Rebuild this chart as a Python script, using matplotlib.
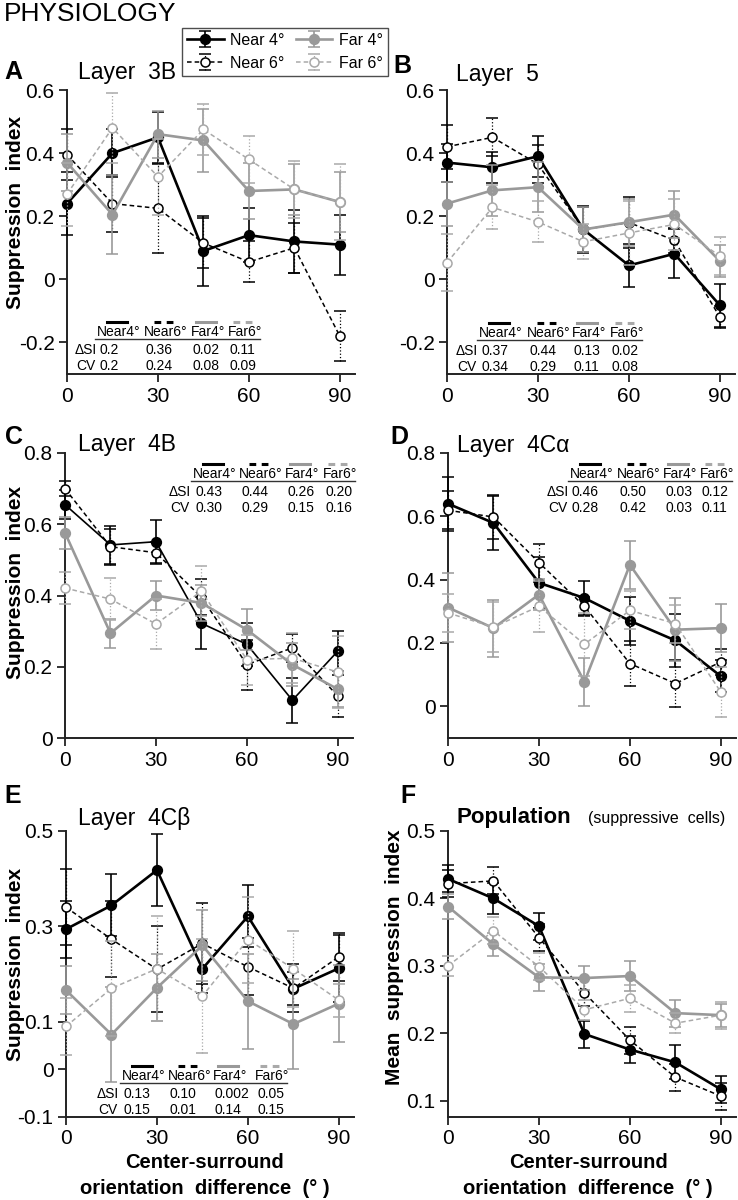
import matplotlib
matplotlib.use("Agg")
import matplotlib.pyplot as plt
from matplotlib.lines import Line2D

plt.rcParams['font.family'] = ['Liberation Sans', 'DejaVu Sans']

# ---------------- data ----------------
angles = [0, 15, 30, 45, 60, 75, 90]

A_near4 = [0.24, 0.40, 0.45, 0.09, 0.14, 0.12, 0.11]
A_near4_err = [0.10, 0.075, 0.08, 0.11, 0.085, 0.10, 0.095]
A_near6 = [0.395, 0.24, 0.225, 0.115, 0.055, 0.10, -0.18]
A_near6_err = [0.08, 0.09, 0.14, 0.08, 0.065, 0.08, 0.08]
A_far4 = [0.37, 0.205, 0.46, 0.44, 0.28, 0.285, 0.245]
A_far4_err = [0.09, 0.125, 0.075, 0.10, 0.09, 0.08, 0.095]
A_far6 = [0.27, 0.48, 0.325, 0.475, 0.38, 0.285, 0.245]
A_far6_err = [0.10, 0.11, 0.12, 0.08, 0.075, 0.09, 0.12]

B_near4 = [0.37, 0.355, 0.39, 0.158, 0.044, 0.081, -0.082]
B_near4_err = [0.06, 0.05, 0.065, 0.075, 0.067, 0.077, 0.068]
B_near6 = [0.42, 0.45, 0.365, 0.158, 0.18, 0.124, -0.12]
B_near6_err = [0.07, 0.06, 0.06, 0.07, 0.08, 0.04, 0.035]
B_far4 = [0.24, 0.282, 0.292, 0.158, 0.181, 0.205, 0.058]
B_far4_err = [0.07, 0.08, 0.08, 0.07, 0.075, 0.075, 0.05]
B_far6 = [0.053, 0.228, 0.182, 0.119, 0.147, 0.174, 0.074]
B_far6_err = [0.09, 0.07, 0.065, 0.055, 0.10, 0.08, 0.06]

C_near4 = [0.655, 0.542, 0.551, 0.322, 0.263, 0.106, 0.244]
C_near4_err = [0.04, 0.054, 0.062, 0.073, 0.06, 0.063, 0.055]
C_near6 = [0.70, 0.537, 0.52, 0.395, 0.206, 0.253, 0.118]
C_near6_err = [0.02, 0.05, 0.03, 0.05, 0.07, 0.04, 0.06]
C_far4 = [0.576, 0.294, 0.40, 0.379, 0.304, 0.206, 0.137]
C_far4_err = [0.045, 0.04, 0.04, 0.05, 0.057, 0.06, 0.05]
C_far6 = [0.421, 0.39, 0.32, 0.412, 0.22, 0.224, 0.185]
C_far6_err = [0.045, 0.06, 0.07, 0.07, 0.07, 0.07, 0.10]

D_near4 = [0.64, 0.579, 0.39, 0.342, 0.27, 0.208, 0.095]
D_near4_err = [0.085, 0.085, 0.08, 0.055, 0.075, 0.085, 0.05]
D_near6 = [0.619, 0.598, 0.454, 0.316, 0.135, 0.072, 0.14]
D_near6_err = [0.06, 0.07, 0.06, 0.03, 0.07, 0.075, 0.04]
D_far4 = [0.312, 0.247, 0.353, 0.077, 0.447, 0.242, 0.247]
D_far4_err = [0.11, 0.09, 0.05, 0.077, 0.075, 0.10, 0.075]
D_far6 = [0.295, 0.25, 0.316, 0.196, 0.303, 0.261, 0.045]
D_far6_err = [0.06, 0.08, 0.08, 0.10, 0.06, 0.06, 0.08]

E_near4 = [0.294, 0.344, 0.418, 0.211, 0.321, 0.169, 0.212]
E_near4_err = [0.06, 0.065, 0.075, 0.05, 0.065, 0.035, 0.07]
E_near6 = [0.34, 0.273, 0.21, 0.264, 0.215, 0.17, 0.236]
E_near6_err = [0.08, 0.08, 0.09, 0.085, 0.06, 0.05, 0.05]
E_far4 = [0.166, 0.073, 0.171, 0.26, 0.143, 0.095, 0.138]
E_far4_err = [0.05, 0.10, 0.07, 0.075, 0.10, 0.095, 0.08]
E_far6 = [0.09, 0.17, 0.211, 0.154, 0.272, 0.211, 0.145]
E_far6_err = [0.06, 0.10, 0.11, 0.12, 0.09, 0.08, 0.035]

F_near4 = [0.429, 0.40, 0.359, 0.199, 0.176, 0.157, 0.117]
F_near4_err = [0.02, 0.023, 0.02, 0.02, 0.02, 0.025, 0.02]
F_near6 = [0.422, 0.426, 0.342, 0.26, 0.19, 0.135, 0.107]
F_near6_err = [0.02, 0.02, 0.02, 0.02, 0.02, 0.02, 0.02]
F_far4 = [0.388, 0.332, 0.283, 0.282, 0.285, 0.23, 0.227]
F_far4_err = [0.018, 0.017, 0.02, 0.018, 0.022, 0.02, 0.017]
F_far6 = [0.30, 0.352, 0.299, 0.235, 0.252, 0.215, 0.227]
F_far6_err = [0.015, 0.02, 0.02, 0.015, 0.02, 0.015, 0.02]

series_names = ["Near4°", "Near6°", "Far4°", "Far6°"]
legend_labels = ["Near 4°", "Near 6°", "Far 4°", "Far 6°"]

A_dsi = ["0.2", "0.36", "0.02", "0.11"]
A_cv = ["0.2", "0.24", "0.08", "0.09"]
B_dsi = ["0.37", "0.44", "0.13", "0.02"]
B_cv = ["0.34", "0.29", "0.11", "0.08"]
C_dsi = ["0.43", "0.44", "0.26", "0.20"]
C_cv = ["0.30", "0.29", "0.15", "0.16"]
D_dsi = ["0.46", "0.50", "0.03", "0.12"]
D_cv = ["0.28", "0.42", "0.03", "0.11"]
E_dsi = ["0.13", "0.10", "0.002", "0.05"]
E_cv = ["0.15", "0.01", "0.14", "0.15"]

xticks = [0, 30, 60, 90]
A_yticks = [-0.2, 0, 0.2, 0.4, 0.6]
C_yticks = [0, 0.2, 0.4, 0.6, 0.8]
E_yticks = [-0.1, 0, 0.1, 0.3, 0.5]
F_yticks = [0.1, 0.2, 0.3, 0.4, 0.5]

# ---------------- figure ----------------
W, H = 738, 1200
fig = plt.figure(figsize=(W / 100, H / 100), dpi=100)


def P(x, y):
    return (x / W, 1 - y / H)


BLACK = "#000000"
GRAY = "#999999"
LGRAY = "#a9a9a9"

styles = [
    dict(color=BLACK, ls="-", lw=1.9, marker="o", mfc=BLACK, mec=BLACK, ms=7, elw=1.2, els="-"),
    dict(color=BLACK, ls=(0, (3, 2)), lw=1.1, marker="o", mfc="white", mec=BLACK, ms=6.5, elw=0.9, els=":"),
    dict(color=GRAY, ls="-", lw=1.9, marker="o", mfc=GRAY, mec=GRAY, ms=7, elw=1.2, els="-"),
    dict(color=LGRAY, ls=(0, (3, 2)), lw=1.1, marker="o", mfc="white", mec=LGRAY, ms=6.5, elw=0.9, els=":"),
]


def fmt(v):
    if v == 0:
        return "0"
    return "%.1f" % v


def make_panel(left, top, w, h, ylim, yticks, series, errs, order=(1, 3, 2, 0), near4_lw=None):
    ax = fig.add_axes([left / W, 1 - (top + h) / H, w / W, h / H])
    ax.set_xlim(0, 95)
    ax.set_ylim(*ylim)
    handles = [None] * 4
    for i in order:
        st = styles[i]
        lw = st["lw"]
        if i == 0 and near4_lw is not None:
            lw = near4_lw
        c = ax.errorbar(angles, series[i], yerr=errs[i], color=st["color"], ls=st["ls"], lw=lw,
                        marker=st["marker"], mfc=st["mfc"], mec=st["mec"], ms=st["ms"], mew=1.1,
                        ecolor=st["color"], elinewidth=st["elw"], capsize=4, capthick=st["elw"],
                        clip_on=False, zorder=3 + i)
        for bl in c[2]:
            bl.set_linestyle(st["els"])
            bl.set_clip_on(False)
        for cl in c[1]:
            cl.set_clip_on(False)
        handles[i] = c
    for s in ["top", "right"]:
        ax.spines[s].set_visible(False)
    for s in ["left", "bottom"]:
        ax.spines[s].set_linewidth(1.4)
        ax.spines[s].set_color("#222222")
    ax.set_xticks(xticks)
    ax.set_xticklabels([str(t) for t in xticks])
    ax.set_yticks(yticks)
    ax.set_yticklabels([fmt(t) for t in yticks])
    ax.tick_params(direction="out", length=6, width=1.3, labelsize=15, color="#222222", pad=3)
    return ax, handles


def draw_table(axis_x, hy, label_x, cols, end_x, dsi, cv):
    fs = 10
    fig.text(*P(axis_x + label_x, hy + 18), "ΔSI", ha="center", va="center", fontsize=fs)
    fig.text(*P(axis_x + label_x, hy + 34), "CV", ha="center", va="center", fontsize=fs)
    for j, name in enumerate(series_names):
        cx = axis_x + cols[j]
        fig.text(*P(cx, hy), name, ha="left", va="center", fontsize=fs)
        fig.text(*P(cx + 2, hy + 18), dsi[j], ha="left", va="center", fontsize=fs)
        fig.text(*P(cx + 2, hy + 34), cv[j], ha="left", va="center", fontsize=fs)
        hw = 20 if j < 2 else 15
        st = styles[j]
        x0, y0 = P(cx + hw - 10, hy - 10)
        x1, _ = P(cx + hw + 10, hy - 10)
        fig.add_artist(Line2D([x0, x1], [y0, y0], color=st["color"], lw=2.2,
                              ls="-" if j in (0, 2) else (0, (2.2, 1.8)), transform=fig.transFigure))
    ux0, uy = P(axis_x + cols[0] - 2, hy + 7)
    ux1, _ = P(axis_x + end_x, hy + 7)
    fig.add_artist(Line2D([ux0, ux1], [uy, uy], color="#333333", lw=1.0, transform=fig.transFigure))


# Panel A
axA, hA = make_panel(67, 90, 288, 284, (-0.3, 0.6), A_yticks,
                     [A_near4, A_near6, A_far4, A_far6], [A_near4_err, A_near6_err, A_far4_err, A_far6_err])
draw_table(67, 332, 19, [30, 77, 124, 161], 193, A_dsi, A_cv)
# Panel B
axB, _ = make_panel(447, 90, 288, 284, (-0.3, 0.6), A_yticks,
                    [B_near4, B_near6, B_far4, B_far6], [B_near4_err, B_near6_err, B_far4_err, B_far6_err])
draw_table(447, 333, 20, [32, 80, 125, 163], 195, B_dsi, B_cv)
# Panel C
axC, _ = make_panel(65, 453, 288, 285, (0, 0.8), C_yticks,
                    [C_near4, C_near6, C_far4, C_far6], [C_near4_err, C_near6_err, C_far4_err, C_far6_err],
                    near4_lw=1.2)
draw_table(65, 474, 115, [128, 174, 220, 258], 290, C_dsi, C_cv)
# Panel D
axD, _ = make_panel(448, 453, 288, 285, (-0.1, 0.8), C_yticks,
                    [D_near4, D_near6, D_far4, D_far6], [D_near4_err, D_near6_err, D_far4_err, D_far6_err])
draw_table(448, 474, 110, [122, 169, 215, 252], 284, D_dsi, D_cv)
# Panel E
axE, _ = make_panel(66, 831, 288, 286, (-0.1, 0.5), E_yticks,
                    [E_near4, E_near6, E_far4, E_far6], [E_near4_err, E_near6_err, E_far4_err, E_far6_err])
draw_table(63, 1076, 45, [59, 105, 150, 192], 224, E_dsi, E_cv)
# Panel F
axF, _ = make_panel(448, 831, 288, 286, (0.076, 0.5), F_yticks,
                    [F_near4, F_near6, F_far4, F_far6], [F_near4_err, F_near6_err, F_far4_err, F_far6_err])

# y labels
for x, yc, lab in [(16, 212, "Suppression  index"), (16, 582, "Suppression  index"),
                   (16, 964, "Suppression  index"), (395, 957, "Mean  suppression  index")]:
    fig.text(*P(x, yc), lab, rotation=90, ha="center", va="center", fontsize=15, fontweight="bold")

# x labels
for xc in [205, 588]:
    fig.text(*P(xc, 1163), "Center-surround", ha="center", va="center", fontsize=14.5, fontweight="bold")
    fig.text(*P(xc, 1188), "orientation  difference  (° )", ha="center", va="center", fontsize=14.5,
             fontweight="bold")

# panel letters and titles
for letter, x, y in [("A", 13, 72), ("B", 402, 66), ("C", 14, 437), ("D", 399, 437), ("E", 13, 796), ("F", 408, 796)]:
    fig.text(*P(x, y), letter, ha="center", va="center", fontsize=18, fontweight="bold")

for title, x, y in [("Layer  3B", 78, 72), ("Layer  5", 456, 75), ("Layer  4B", 78, 445),
                    ("Layer  4Cα", 457, 446), ("Layer  4Cβ", 78, 818)]:
    fig.text(*P(x, y), title, ha="left", va="center", fontsize=16.5)
fig.text(*P(457, 817), "Population", ha="left", va="center", fontsize=16, fontweight="bold")
fig.text(*P(588, 819), "(suppressive  cells)", ha="left", va="center", fontsize=11.5)

fig.text(*P(4, 14), "PHYSIOLOGY", ha="left", va="center", fontsize=19)

# legend
leg = fig.legend([hA[0], hA[1], hA[2], hA[3]], legend_labels, ncol=2, loc="upper left",
                 bbox_to_anchor=P(182, 28), frameon=True, fancybox=False, edgecolor="#222222",
                 fontsize=11.5, handlelength=2.3, handletextpad=0.4, columnspacing=0.7,
                 labelspacing=0.5, borderpad=0.3, borderaxespad=0)
leg.get_frame().set_linewidth(1.0)

fig.savefig("out.png", dpi=100)
